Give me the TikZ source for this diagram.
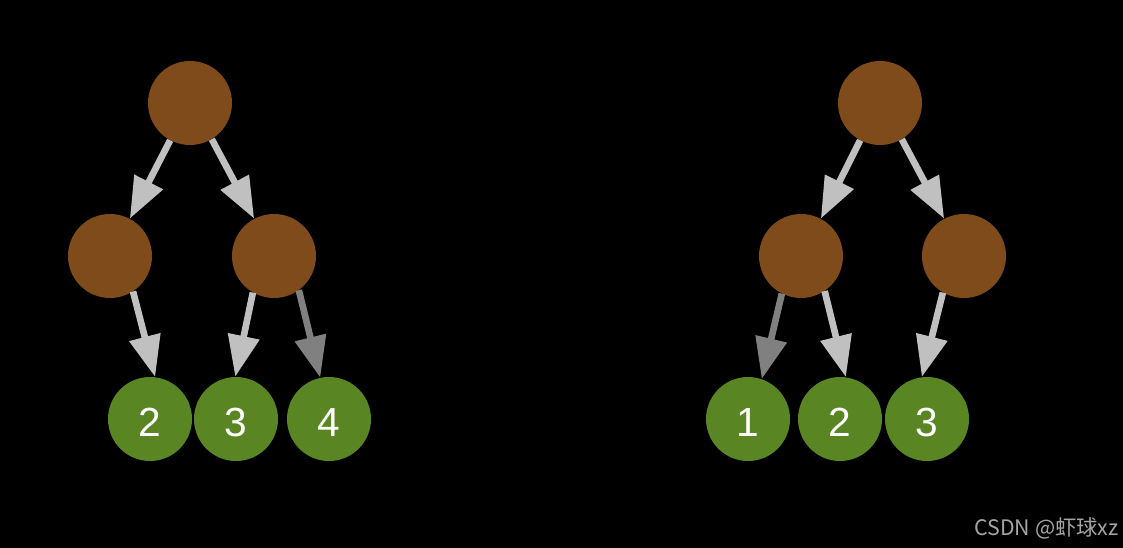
\documentclass[tikz,border=0pt]{standalone}
\usepackage{fontspec}
\setmainfont{Liberation Sans}
\newfontfamily\cjkfont{Noto Sans CJK SC}
\usetikzlibrary{arrows.meta}
\definecolor{nodebrown}{RGB}{127,75,26}
\definecolor{leafgreen}{RGB}{90,133,35}
\definecolor{arrowlight}{RGB}{192,192,192}
\definecolor{arrowdark}{RGB}{128,128,128}
\definecolor{wmgrey}{RGB}{165,165,165}
\begin{document}
\begin{tikzpicture}[x=0.75pt,y=-0.75pt,
  inner/.style={circle,fill=nodebrown,minimum size=63pt,inner sep=0pt},
  leaf/.style={circle,fill=leafgreen,minimum size=63pt,inner sep=0pt,text=white,
    text height=26pt,text depth=0pt,font=\fontsize{30.5}{30}\selectfont},
  edge/.style={draw=arrowlight,line width=5pt,-{Triangle[length=31pt,width=23pt]}},
  edgedark/.style={edge,draw=arrowdark,-{Triangle[length=31pt,width=23pt]}}]
\fill[black] (0,0) rectangle (1123,548);
\useasboundingbox (0,0) rectangle (1123,548);
% left tree
\node[inner] (lr) at (190,103) {};
\node[inner] (la) at (110,256) {};
\node[inner] (lb) at (274,256) {};
\node[leaf] (l2) at (150,419) {2};
\node[leaf] (l3) at (236,419) {3};
\node[leaf] (l4) at (329,419) {4};
\draw[edge] (lr.-118) -- (la.62);
\draw[edge] (lr.-59) -- (lb.118);
\draw[edge] (la.-57) -- (l2.83);
\draw[edge] (lb.-120) -- (l3.91);
\draw[edgedark] (lb.-54) -- (l4.102);
% right tree
\node[inner] (rr) at (880,103) {};
\node[inner] (ra) at (801,256) {};
\node[inner] (rb) at (964,256) {};
\node[leaf] (r1) at (748,419) {1};
\node[leaf] (r2) at (840,419) {2};
\node[leaf] (r3) at (927,419) {3};
\draw[edge] (rr.-118) -- (ra.62);
\draw[edge] (rr.-59) -- (rb.118);
\draw[edgedark] (ra.-117) -- (r1.71);
\draw[edge] (ra.-56) -- (r2.82);
\draw[edge] (rb.-120) -- (r3.97);
% watermark
\node[anchor=base east,text=wmgrey,font=\cjkfont\fontsize{16}{16}\selectfont,inner sep=0pt] (wm) at (1119,535) {CSDN @虾球xz};
\end{tikzpicture}
\end{document}
